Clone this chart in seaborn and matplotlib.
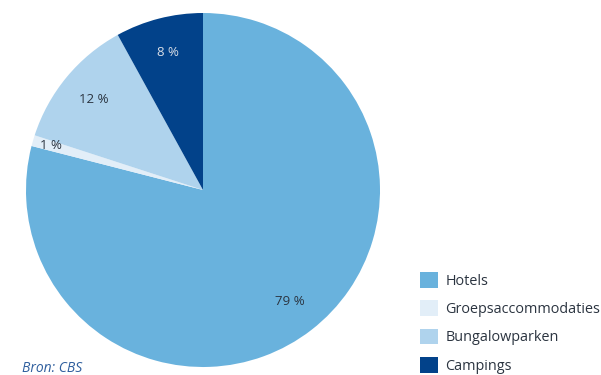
import matplotlib
matplotlib.use("Agg")
import matplotlib.pyplot as plt
from matplotlib.patches import Patch
import seaborn as sns

categories = ["Hotels", "Groepsaccommodaties", "Bungalowparken", "Campings"]
shares = [79, 1, 12, 8]
colors = ["#69b2dd", "#e2eef8", "#afd3ed", "#02428a"]
label_colors = ["#2b3440", "#2b3440", "#2b3440", "#d8dde6"]
source = "Bron: CBS"

sns.set_style("white")
plt.rcParams["font.family"] = ["Open Sans", "DejaVu Sans"]

W, H = 601, 375
fig = plt.figure(figsize=(W / 100, H / 100), dpi=100)
cx, cy, r = 203, 190, 177
ax = fig.add_axes([(cx - r) / W, (H - cy - r) / H, 2 * r / W, 2 * r / H])

wedges, texts, autotexts = ax.pie(
    shares, colors=colors, startangle=90, counterclock=False,
    autopct=lambda p: f"{p:.0f} %", pctdistance=0.8,
    wedgeprops=dict(linewidth=0),
    textprops=dict(fontsize=9.5),
)
for t, c in zip(autotexts, label_colors):
    t.set_color(c)
# the thin slice gets its label nudged outward
x, y = autotexts[1].get_position()
autotexts[1].set_position((x * 1.12, y * 1.12))
ax.set_xlim(-1, 1)
ax.set_ylim(-1, 1)
ax.set_aspect("equal")
ax.axis("off")

handles = [Patch(facecolor=c, edgecolor="none") for c in colors]
fig.legend(handles, categories, loc="upper left",
           bbox_to_anchor=(407 / W, 1 - 259 / H), frameon=False,
           fontsize=10.4, handlelength=1.25, handleheight=1.3,
           handletextpad=0.5, labelspacing=0.8, labelcolor="#2b3440")

fig.text(22 / W, 1 - 368 / H, source, fontsize=10, style="italic",
         color="#2f5f9e", va="center", ha="left")

fig.savefig("out.png", dpi=100)
